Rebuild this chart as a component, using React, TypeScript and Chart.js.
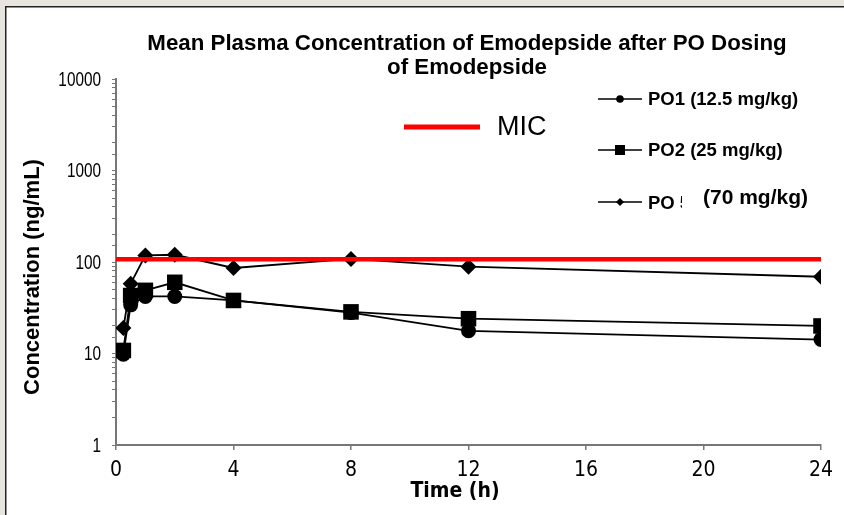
import React, { useEffect, useRef } from "react";
import { Chart, registerables } from "chart.js";

Chart.register(...registerables);

// ---- data ----
const times = [0.25, 0.5, 1, 2, 4, 8, 12, 24];
const po1Values = [9.8, 34, 42, 42, 38, 28, 17.7, 14.2];
const po2Values = [10.8, 43, 49, 60, 38, 28.5, 24, 20];
const po5Values = [19, 58, 118, 120, 86, 108, 89, 69];
const micTimes = [0, 24];
const micValue = 107;
const xTickValues = [0, 4, 8, 12, 16, 20, 24];
const yTickLabels = [1, 10, 100, 1000, 10000];
const titleLines = [
  "Mean Plasma Concentration of Emodepside after PO Dosing",
  "of Emodepside",
];
const yAxisTitle = "Concentration (ng/mL)";
const xAxisTitle = "Time (h)";
const legendLabels = ["PO1 (12.5 mg/kg)", "PO2 (25 mg/kg)", "PO 5", "(70 mg/kg)"];
const micLabel = "MIC";

const FONT = "'Liberation Sans', Arial, sans-serif";
const NARROW = "'DejaVu Sans Condensed', 'Liberation Sans', sans-serif";

const decorPlugin = {
  id: "decor",
  beforeDraw(chart: any) {
    const ctx = chart.ctx;
    const w = chart.width;
    const h = chart.height;
    ctx.save();
    ctx.fillStyle = "#E8E5DF";
    ctx.fillRect(0, 0, w, h);
    ctx.fillStyle = "#FFFFFF";
    ctx.fillRect(5, 6, w - 5, h - 6);
    ctx.strokeStyle = "#222222";
    ctx.lineWidth = 1.5;
    ctx.beginPath();
    ctx.moveTo(5.75, h);
    ctx.lineTo(5.75, 6.75);
    ctx.lineTo(w, 6.75);
    ctx.stroke();
    ctx.restore();
  },
  afterDraw(chart: any) {
    const ctx = chart.ctx;
    ctx.save();
    ctx.fillStyle = "#000";
    ctx.textBaseline = "middle";

    // y tick labels (condensed look), placed through the y scale
    const yScale = chart.scales.y;
    ctx.font = `21px ${FONT}`;
    ctx.textAlign = "right";
    yTickLabels.forEach((v) => {
      const py = yScale.getPixelForValue(v);
      ctx.save();
      ctx.translate(101, py + 1);
      ctx.scale(0.73, 1);
      ctx.fillText(String(v), 0, 0);
      ctx.restore();
    });

    // title
    ctx.font = `bold 22.3px ${FONT}`;
    ctx.textAlign = "center";
    ctx.fillText(titleLines[0], 467, 44);
    ctx.fillText(titleLines[1], 467, 68);

    // axis titles
    ctx.font = `bold 21px ${NARROW}`;
    ctx.fillText(xAxisTitle, 455, 492);
    ctx.save();
    ctx.translate(33, 277);
    ctx.rotate(-Math.PI / 2);
    ctx.font = `bold 22px ${FONT}`;
    ctx.fillText(yAxisTitle, 0, 0);
    ctx.restore();

    // MIC annotation
    ctx.strokeStyle = "#FF0000";
    ctx.lineWidth = 5;
    ctx.beginPath();
    ctx.moveTo(404, 127);
    ctx.lineTo(480, 127);
    ctx.stroke();
    ctx.font = `27px ${FONT}`;
    ctx.textAlign = "left";
    ctx.fillText(micLabel, 497, 128);

    // legend
    const rows = [99, 150, 202];
    ctx.strokeStyle = "#000";
    ctx.lineWidth = 1.5;
    rows.forEach((y) => {
      ctx.beginPath();
      ctx.moveTo(598, y);
      ctx.lineTo(642, y);
      ctx.stroke();
    });
    ctx.beginPath();
    ctx.arc(620, rows[0], 3.8, 0, Math.PI * 2);
    ctx.fill();
    ctx.fillRect(615, rows[1] - 5, 10, 10);
    ctx.beginPath();
    ctx.moveTo(620, rows[2] - 4);
    ctx.lineTo(624, rows[2]);
    ctx.lineTo(620, rows[2] + 4);
    ctx.lineTo(616, rows[2]);
    ctx.closePath();
    ctx.fill();

    ctx.font = `bold 18.5px ${FONT}`;
    ctx.fillText(legendLabels[0], 648, rows[0] + 1);
    ctx.fillText(legendLabels[1], 648, rows[1] + 1);
    ctx.save();
    ctx.beginPath();
    ctx.rect(640, rows[2] - 15, 42, 30);
    ctx.clip();
    ctx.fillText(legendLabels[2], 648, rows[2] + 2);
    ctx.restore();
    ctx.font = `bold 21px ${FONT}`;
    ctx.fillText(legendLabels[3], 703, 198);

    ctx.restore();
  },
};

export default function App() {
  const ref = useRef<HTMLCanvasElement | null>(null);

  useEffect(() => {
    document.body.style.margin = "0";
    const canvas = ref.current;
    if (!canvas) return;
    const toPts = (vals: number[]) => times.map((t, i) => ({ x: t, y: vals[i] }));
    const chart = new Chart(canvas, {
      type: "line",
      data: {
        datasets: [
          {
            label: "MIC",
            data: micTimes.map((t) => ({ x: t, y: micValue })),
            borderColor: "#FF0000",
            backgroundColor: "#FF0000",
            borderWidth: 4.5,
            pointRadius: 0,
            order: 0,
          },
          {
            label: legendLabels[2],
            data: toPts(po5Values),
            borderColor: "#000",
            backgroundColor: "#000",
            borderWidth: 1.8,
            pointStyle: "rectRot",
            pointRadius: 8,
            pointBorderWidth: 0,
            order: 1,
          },
          {
            label: legendLabels[1],
            data: toPts(po2Values),
            borderColor: "#000",
            backgroundColor: "#000",
            borderWidth: 1.8,
            pointStyle: "rect",
            pointRadius: 11,
            pointBorderWidth: 0,
            order: 2,
          },
          {
            label: legendLabels[0],
            data: toPts(po1Values),
            borderColor: "#000",
            backgroundColor: "#000",
            borderWidth: 1.8,
            pointStyle: "circle",
            pointRadius: 7.5,
            pointBorderWidth: 0,
            order: 3,
          },
        ],
      },
      options: {
        responsive: false,
        animation: false,
        devicePixelRatio: 1,
        layout: { padding: { left: 0, top: 79, right: 23, bottom: 0 } },
        plugins: {
          legend: { display: false },
          title: { display: false },
          tooltip: { enabled: false },
        },
        scales: {
          x: {
            type: "linear",
            min: 0,
            max: 24,
            afterBuildTicks(s: any) {
              s.ticks = xTickValues.map((v) => ({ value: v }));
            },
            afterFit(s: any) {
              s.height = 70;
            },
            border: { color: "#777", width: 2 },
            grid: { drawOnChartArea: false, color: "#777", tickLength: 5, lineWidth: 1.5 },
            ticks: {
              padding: 8,
              color: "#000",
              font: { family: NARROW, size: 21 },
              maxRotation: 0,
              autoSkip: false,
            },
          },
          y: {
            type: "logarithmic",
            min: 1,
            max: 10000,
            afterFit(s: any) {
              s.width = 116;
            },
            border: { color: "#777", width: 2 },
            grid: { drawOnChartArea: false, color: "#777", tickLength: 4, lineWidth: 1 },
            ticks: {
              autoSkip: false,
              padding: 14,
              color: "#000",
              callback: () => "",
            },
          },
        },
      },
      plugins: [decorPlugin],
    } as any);
    return () => chart.destroy();
  }, []);

  return <canvas ref={ref} width={844} height={515} style={{ display: "block" }} />;
}
